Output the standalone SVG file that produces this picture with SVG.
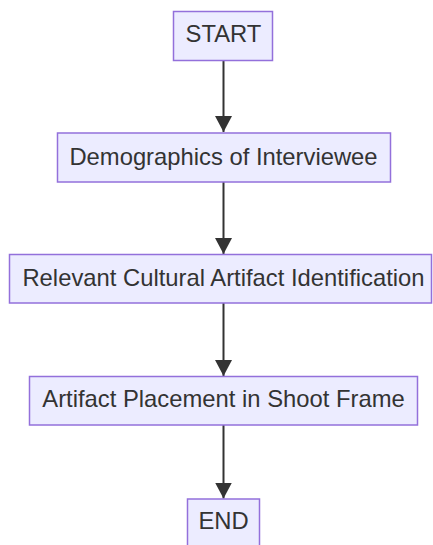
<svg xmlns="http://www.w3.org/2000/svg" width="433" height="545" viewBox="0 0 433 545">
  <style>
    .node rect { fill: #ECECFF; stroke: #9370DB; stroke-width: 1.5; }
    .node text { font-family: "Liberation Sans", Arial, sans-serif; font-size: 23.8px; fill: #333333; text-anchor: middle; dominant-baseline: central; }
    .edge { stroke: #333333; stroke-width: 2; fill: none; }
  </style>
  <defs>
    <marker id="arrow" viewBox="0 0 16 17" refX="16" refY="8.5" markerWidth="16" markerHeight="17" markerUnits="userSpaceOnUse" orient="auto">
      <path d="M0,0 L16,8.5 L0,17 z" fill="#333333"/>
    </marker>
  </defs>
  <rect width="433" height="545" fill="#ffffff"/>

  <g id="connectors">
    <path class="edge" d="M223.5,61 L223.5,132" marker-end="url(#arrow)"/>
    <path class="edge" d="M223.5,182 L223.5,254" marker-end="url(#arrow)"/>
    <path class="edge" d="M223.5,303 L223.5,376" marker-end="url(#arrow)"/>
    <path class="edge" d="M223.5,425 L223.5,498.5" marker-end="url(#arrow)"/>
  </g>

  <g id="start" class="node">
    <rect x="173.5" y="11.5" width="99" height="49"/>
    <text x="223.5" y="33.8">START</text>
  </g>
  <g id="demographics" class="node">
    <rect x="57.5" y="133" width="333" height="49"/>
    <text x="223.5" y="156.3">Demographics of Interviewee</text>
  </g>
  <g id="artifact-identification" class="node">
    <rect x="9.5" y="254.5" width="422" height="48.5"/>
    <text x="223.5" y="277.8">Relevant Cultural Artifact Identification</text>
  </g>
  <g id="artifact-placement" class="node">
    <rect x="29.5" y="376.5" width="388" height="48.5"/>
    <text x="223.5" y="398.3">Artifact Placement in Shoot Frame</text>
  </g>
  <g id="end" class="node">
    <rect x="187.5" y="499" width="72" height="49"/>
    <text x="223.5" y="520.8">END</text>
  </g>
</svg>
